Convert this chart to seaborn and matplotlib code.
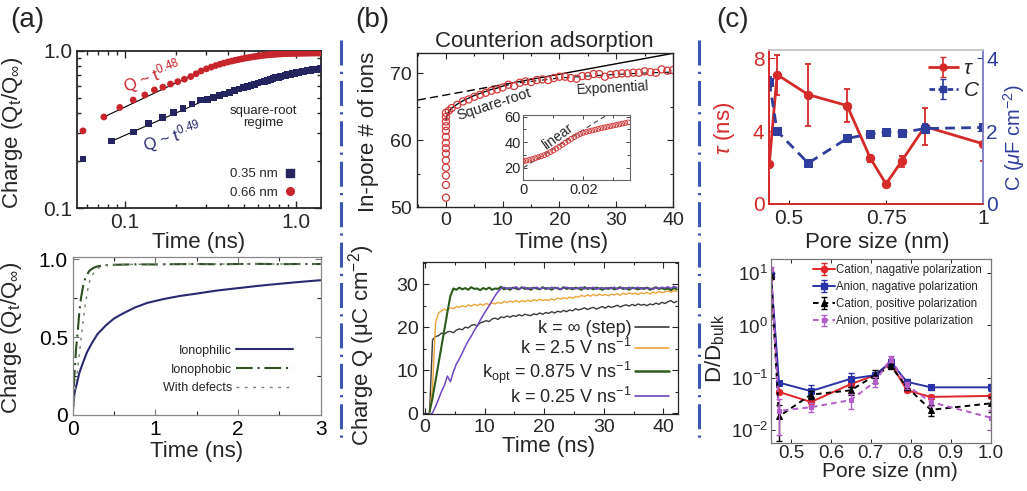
import numpy as np
import matplotlib
matplotlib.use("Agg")
import matplotlib.pyplot as plt
import seaborn as sns
from matplotlib.lines import Line2D
from matplotlib.ticker import FixedLocator, FixedFormatter, NullFormatter, LogLocator

sns.set_style("ticks")
plt.rcParams['font.family'] = ['Liberation Sans', 'DejaVu Sans']
plt.rcParams['mathtext.fontset'] = 'custom'
plt.rcParams['mathtext.rm'] = 'Liberation Sans'
plt.rcParams['mathtext.it'] = 'Liberation Sans:italic'
plt.rcParams['mathtext.bf'] = 'Liberation Sans:bold'
plt.rcParams['lines.scale_dashes'] = False
plt.rcParams['xtick.direction'] = 'in'
plt.rcParams['ytick.direction'] = 'in'

# ---------------- panel (a) top: log-log charging ----------------
t_066 = [0.057, 0.0755, 0.0935, 0.112, 0.131, 0.149, 0.167, 0.185, 0.204, 0.223, 0.243, 0.261, 0.279,
         0.30, 0.32, 0.34, 0.36, 0.38, 0.40, 0.42, 0.44, 0.46, 0.48,
         0.50, 0.52, 0.54, 0.56, 0.58, 0.60, 0.62, 0.64, 0.66, 0.68,
         0.70, 0.72, 0.74, 0.76, 0.78, 0.80, 0.82, 0.84, 0.86, 0.88,
         0.90, 0.92, 0.94, 0.96, 0.98, 1.00, 1.02, 1.04, 1.06, 1.08,
         1.10, 1.12, 1.14, 1.16, 1.18, 1.20, 1.22, 1.24, 1.26, 1.28,
         1.30, 1.32, 1.34, 1.36, 1.38]
q_066 = [0.31, 0.38, 0.437, 0.487, 0.525, 0.565, 0.588, 0.616, 0.638, 0.661, 0.687, 0.716, 0.746,
         0.770, 0.790, 0.808, 0.824, 0.838, 0.851, 0.862, 0.872, 0.881, 0.890,
         0.898, 0.905, 0.912, 0.918, 0.923, 0.928, 0.933, 0.937, 0.941, 0.944,
         0.947, 0.950, 0.952, 0.954, 0.956, 0.958, 0.959, 0.961, 0.962, 0.963,
         0.964, 0.965, 0.966, 0.966, 0.967, 0.967, 0.968, 0.968, 0.969, 0.969,
         0.970, 0.970, 0.970, 0.971, 0.971, 0.971, 0.972, 0.972, 0.972, 0.972,
         0.973, 0.973, 0.973, 0.973, 0.973]
t_035 = [0.057, 0.084, 0.112, 0.138, 0.167, 0.193, 0.219, 0.247, 0.276,
         0.303, 0.330, 0.357, 0.384, 0.411, 0.438, 0.465, 0.492, 0.519, 0.546,
         0.573, 0.600, 0.627, 0.654, 0.681, 0.708, 0.735, 0.762, 0.789, 0.816,
         0.843, 0.870, 0.897, 0.924, 0.951, 0.978, 1.005, 1.032, 1.059, 1.086,
         1.113, 1.140, 1.167, 1.194, 1.221, 1.248, 1.275, 1.302, 1.329, 1.356, 1.383]
q_035 = [0.205, 0.267, 0.305, 0.347, 0.379, 0.407, 0.432, 0.460, 0.487,
         0.490, 0.503, 0.518, 0.533, 0.547, 0.560, 0.572, 0.584, 0.595, 0.605,
         0.615, 0.625, 0.634, 0.643, 0.651, 0.659, 0.667, 0.674, 0.681, 0.688,
         0.694, 0.700, 0.706, 0.711, 0.716, 0.721, 0.726, 0.730, 0.734, 0.738,
         0.742, 0.745, 0.749, 0.752, 0.755, 0.758, 0.761, 0.763, 0.766, 0.768, 0.770]
fit066_t = [0.0755, 0.29]
fit066_q = [0.38, 0.76]
fit035_t = [0.084, 0.30]
fit035_q = [0.267, 0.49]

# ---------------- panel (a) bottom ----------------
t_philic = [0, 0.01, 0.03, 0.05, 0.08, 0.12, 0.17, 0.23, 0.3, 0.4, 0.5, 0.6, 0.75, 0.9,
            1.1, 1.3, 1.5, 1.75, 2.0, 2.25, 2.5, 2.75, 3.0]
q_philic = [0, 0.10, 0.16, 0.20, 0.27, 0.33, 0.40, 0.46, 0.52, 0.575, 0.62, 0.65, 0.69, 0.72,
            0.745, 0.765, 0.78, 0.80, 0.815, 0.83, 0.843, 0.855, 0.866]
t_phobic = [0, 0.02, 0.04, 0.06, 0.08, 0.1, 0.13, 0.16, 0.2, 0.25, 0.3, 0.4, 0.5, 0.75,
            1.0, 1.25, 1.5, 1.75, 2.0, 2.25, 2.5, 2.75, 3.0]
q_phobic = [0, 0.25, 0.42, 0.53, 0.66, 0.75, 0.84, 0.89, 0.925, 0.945, 0.955, 0.962, 0.965, 0.968,
            0.967, 0.969, 0.970, 0.968, 0.970, 0.971, 0.969, 0.970, 0.970]
t_defect = [0, 0.03, 0.06, 0.09, 0.12, 0.15, 0.18, 0.21, 0.25, 0.3, 0.35, 0.4, 0.5, 0.75,
            1.0, 1.5, 2.0, 2.5, 3.0]
q_defect = [0, 0.15, 0.30, 0.44, 0.58, 0.70, 0.80, 0.87, 0.91, 0.94, 0.955, 0.962, 0.966, 0.968,
            0.969, 0.970, 0.970, 0.970, 0.970]
labels_a = ["Ionophilic", "Ionophobic", "With defects"]

# ---------------- panel (b) top ----------------
t_ads = [0, 0, 0, 0, 0, 0, 0, 0, 0, 0, 0, 0, 0, 0,
         0.5, 1, 2, 3, 4, 5, 6, 7, 8, 9, 10, 11, 12, 13, 14, 15, 16, 17, 18, 19, 20,
         21, 22, 23, 24, 25, 26, 27, 28, 29, 30, 31, 32, 33, 34, 35, 36, 37, 38, 39, 40]
n_ads = [51.4, 53.3, 54.7, 55.9, 57.0, 58.0, 58.8, 59.6, 60.5, 61.4, 62.1, 62.8, 63.5, 64.1,
         64.4, 64.8, 65.3, 65.8, 66.1, 66.5, 66.8, 67.1, 67.4, 67.6, 67.9, 68.3, 68.1, 68.6,
         68.8, 68.7, 69.0, 69.1, 69.0, 69.3, 69.5,
         69.5, 69.3, 69.2, 69.6, 69.6, 69.9, 69.9, 69.5, 69.8, 69.9,
         70.0, 70.0, 70.1, 70.1, 70.3, 70.2, 70.1, 70.6, 70.4, 70.5]
t_sqrt = [0, 0.25, 0.5, 1, 2, 3, 4, 5, 6, 7, 8, 9, 10, 11]
n_sqrt = [63.0, 63.9, 64.3, 64.8, 65.4, 65.9, 66.3, 66.7, 67.0, 67.3, 67.6, 67.8, 68.1, 68.3]
t_lin_dash = [-5, 10.5]
n_lin_dash = [66.0, 68.4]
t_lin_solid = [10.5, 40]
n_lin_solid = [68.4, 73.0]
t_exp = [13, 20, 25, 30, 35, 40]
n_exp = [68.6, 69.3, 69.6, 69.85, 70.05, 70.2]
# inset
t_ins = [0.000, 0.001, 0.002, 0.003, 0.004, 0.005, 0.006, 0.007, 0.008, 0.009,
         0.010, 0.011, 0.012, 0.013, 0.014, 0.015, 0.016, 0.017, 0.018, 0.019,
         0.020, 0.021, 0.022, 0.023, 0.024, 0.025, 0.026, 0.027, 0.028, 0.029,
         0.030, 0.031, 0.032, 0.033, 0.034, 0.035]
n_ins = [25.0, 25.6, 26.2, 26.8, 27.5, 28.2, 29.0, 29.9, 31.0, 32.2,
         33.5, 35.0, 36.5, 38.0, 39.6, 41.1, 42.6, 44.0, 45.3, 46.4,
         47.3, 48.0, 48.6, 49.2, 49.8, 50.4, 51.0, 51.5, 52.0, 52.5,
         53.0, 53.5, 54.0, 54.5, 55.0, 55.5]
t_ins_fit = [0.0, 0.028]
n_ins_fit = [20.0, 61.5]

# ---------------- panel (b) bottom ----------------
t_q = [0.75, 1.25, 1.75, 2.25, 2.75, 3.25, 3.75, 4.25, 4.75, 5.25,
       5.75, 6.25, 6.75, 7.25, 7.75, 8.25, 8.75, 9.25, 9.75, 10.25,
       10.75, 11.25, 11.75, 12.25, 12.75, 13.25, 13.75, 14.25, 14.75, 15.25,
       15.75, 16.25, 16.75, 17.25, 17.75, 18.25, 18.75, 19.25, 19.75, 20.25,
       20.75, 21.25, 21.75, 22.25, 22.75, 23.25, 23.75, 24.25, 24.75, 25.25,
       25.75, 26.25, 26.75, 27.25, 27.75, 28.25, 28.75, 29.25, 29.75, 30.25,
       30.75, 31.25, 31.75, 32.25, 32.75, 33.25, 33.75, 34.25, 34.75, 35.25,
       35.75, 36.25, 36.75, 37.25, 37.75, 38.25, 38.75, 39.25, 39.75, 40.25,
       40.75, 41.25, 41.75, 42.25]
q_step = [0.0, 17.0, 17.8, 18.0, 18.6, 18.4, 18.9, 19.0, 18.7, 19.3,
          19.6, 19.4, 20.0, 19.8, 20.4, 20.6, 20.3, 21.0, 21.2, 21.5,
          21.3, 21.9, 22.1, 21.8, 22.4, 22.2, 22.6, 22.3, 22.7, 22.5,
          22.9, 22.6, 23.0, 22.8, 22.7, 23.1, 22.9, 23.3, 23.0, 23.4,
          23.2, 23.6, 23.3, 23.7, 23.5, 23.9, 23.6, 24.0, 23.8, 24.3,
          24.0, 24.2, 24.5, 24.1, 24.4, 24.6, 24.2, 24.5, 24.8, 24.4,
          24.9, 24.6, 24.8, 25.1, 24.7, 25.0, 25.2, 24.9, 25.3, 25.0,
          25.4, 25.1, 25.3, 25.0, 25.4, 25.2, 25.6, 25.3, 25.8, 25.5,
          25.9, 26.2, 25.7, 26.0]
q_k25 = [0.0, 6.0, 21.0, 23.3, 23.8, 24.2, 23.9, 24.5, 24.3, 24.8,
         24.6, 25.0, 24.7, 25.2, 24.9, 25.3, 25.0, 25.4, 25.1, 25.5,
         25.2, 25.6, 25.4, 25.8, 25.5, 26.0, 25.7, 26.1, 25.8, 26.2,
         25.8, 26.2, 25.9, 26.3, 26.0, 26.4, 26.1, 26.5, 26.2, 26.4,
         26.2, 26.6, 26.3, 26.8, 26.5, 26.9, 26.6, 27.0, 26.7, 27.1,
         27.0, 27.4, 27.1, 27.5, 27.2, 27.6, 27.3, 27.7, 27.4, 27.6,
         27.3, 27.7, 27.5, 27.8, 27.4, 27.9, 27.6, 28.0, 27.7, 27.9,
         27.6, 28.0, 27.8, 28.1, 27.7, 28.2, 27.9, 28.3, 28.0, 28.2,
         28.4, 28.1, 28.5, 28.3]
q_kopt = [0.3, 3.5, 7.5, 11.5, 15.5, 19.5, 23.5, 27.3, 29.0, 28.7,
          29.2, 28.8, 29.1, 28.7, 29.3, 28.9, 29.0, 28.6, 29.1, 28.8,
          29.2, 28.7, 29.0, 28.9, 29.4, 28.8, 29.1, 28.7, 29.2, 29.0,
          28.8, 29.3, 28.9, 29.1, 28.7, 29.2, 29.0, 28.8, 29.3, 28.9,
          29.1, 28.7, 29.2, 29.0, 28.8, 29.3, 28.9, 29.1, 28.8, 29.2,
          29.0, 28.7, 29.3, 28.9, 29.1, 28.8, 29.2, 29.0, 28.7, 29.1,
          28.9, 29.2, 28.8, 29.0, 29.3, 28.9, 29.1, 28.7, 29.2, 29.0,
          28.8, 29.1, 28.9, 29.2, 28.7, 29.0, 29.3, 28.9, 29.1, 28.8,
          29.0, 28.6, 29.1, 28.8]
q_k025 = [-0.3, 0.0, 1.5, 3.2, 5.0, 6.5, 8.6, 7.3, 9.6, 11.4,
          12.6, 14.0, 15.5, 16.8, 17.9, 19.2, 20.3, 21.6, 22.8, 23.9,
          25.0, 26.2, 27.3, 28.3, 29.0, 29.3, 28.9, 29.2, 29.0, 29.4,
          28.9, 29.1, 29.3, 28.8, 29.2, 29.0, 29.3, 28.9, 29.1, 29.2,
          28.9, 29.3, 29.0, 29.2, 28.8, 29.1, 29.3, 29.0, 29.2, 28.9,
          29.1, 29.3, 28.9, 29.2, 29.0, 29.3, 28.8, 29.1, 29.2, 28.9,
          29.2, 29.0, 29.3, 28.9, 29.1, 29.2, 28.9, 29.3, 29.0, 29.1,
          29.3, 28.9, 29.2, 29.0, 29.1, 28.8, 29.2, 29.0, 29.3, 29.1,
          29.4, 29.0, 29.5, 29.2]
labels_b = ["k = \u221e (step)", "k = 2.5 V ns$^{-1}$",
            "k$_{\\mathrm{opt}}$ = 0.875 V ns$^{-1}$", "k = 0.25 V ns$^{-1}$"]

# ---------------- panel (c) ----------------
pore = [0.45, 0.47, 0.55, 0.65, 0.71, 0.75, 0.79, 0.85, 1.0]
tau = [2.2, 7.1, 6.0, 5.4, 2.5, 1.1, 2.35, 4.25, 3.3]
tau_err = [0.0, 1.1, 1.7, 0.9, 0.2, 0.08, 0.3, 1.0, 0.95]
cap = [3.35, 2.0, 1.12, 1.8, 1.92, 1.97, 1.96, 2.07, 2.1]
cap_err = [0.13, 0.07, 0.05, 0.04, 0.03, 0.03, 0.03, 0.13, 0.1]
d_cat_neg = [8.6, 0.053, 0.034, 0.075, 0.111, 0.19, 0.057, 0.0425, 0.0445]
e_cat_neg = [0.6, 0.005, 0.005, 0.01, 0.012, 0.02, 0.005, 0.004, 0.004]
d_an_neg = [9.5, 0.080, 0.055, 0.095, 0.111, 0.20, 0.083, 0.065, 0.065]
e_an_neg = [0.8, 0.006, 0.016, 0.03, 0.015, 0.03, 0.01, 0.007, 0.009]
d_cat_pos = [9.0, 0.018, 0.047, 0.057, 0.11, 0.165, 0.066, 0.024, 0.032]
e_cat_pos = [0.8, 0.012, 0.008, 0.01, 0.03, 0.02, 0.008, 0.006, 0.01]
d_an_pos = [12.0, 0.023, 0.027, 0.037, 0.083, 0.23, 0.071, 0.034, 0.017]
e_an_pos = [1.0, 0.015, 0.005, 0.012, 0.018, 0.03, 0.01, 0.006, 0.007]
labels_c = ["Cation, nagative polarization", "Anion, nagative polarization",
            "Cation, positive polarization", "Anion, positive polarization"]

# ---------------- colours ----------------
RED_A = '#c8242b'
NAVY = '#24245e'
NAVY_L = '#2a2a70'
GREEN_D = '#2f4f25'
DEF_C = '#70806a'
RED_B = '#d23a3a'
BLACK_B = '#3a3a3a'
ORANGE = '#eca437'
GREEN_B = '#2d5a1d'
PURPLE = '#6e46c0'
RED_C = '#d42a2a'
BLUE_C = '#2f3d9c'
RED_D = '#e0262a'
BLUE_D = '#2b32a8'
MAG_D = '#b45cc8'

W, H = 1027, 491
fig = plt.figure(figsize=(W / 100, H / 100), dpi=100)


def px_axes(x0, y0, x1, y1):
    return fig.add_axes([x0 / W, 1 - y1 / H, (x1 - x0) / W, (y1 - y0) / H])


def ticks_all(ax, size, major=5, minor=3, width=1.0):
    ax.tick_params(which='both', direction='in', top=True, right=True, labelsize=size, width=width)
    ax.tick_params(which='major', length=major)
    ax.tick_params(which='minor', length=minor)


# ===== (a) top =====
ax = px_axes(77, 51, 321, 208)
ax.set_xscale('log')
ax.set_yscale('log')
sns.lineplot(x=fit066_t, y=fit066_q, color='k', lw=0.8, ax=ax, sort=False, estimator=None)
sns.lineplot(x=fit035_t, y=fit035_q, color='k', lw=0.8, ax=ax, sort=False, estimator=None)
sns.scatterplot(x=t_035, y=q_035, marker='s', color=NAVY, s=24, edgecolor='none', linewidth=0, ax=ax, zorder=3, legend=False)
sns.scatterplot(x=t_066, y=q_066, marker='o', color=RED_A, s=24, edgecolor='none', linewidth=0, ax=ax, zorder=3, legend=False)
ax.set_xlim(0.0526, 1.40)
ax.set_ylim(0.1, 1.0)
ax.xaxis.set_major_locator(FixedLocator([0.1, 1.0]))
ax.xaxis.set_major_formatter(FixedFormatter(['0.1', '1.0']))
ax.xaxis.set_minor_locator(LogLocator(base=10, subs=np.arange(2, 10) * 1.0))
ax.xaxis.set_minor_formatter(NullFormatter())
ax.yaxis.set_major_locator(FixedLocator([0.1, 1.0]))
ax.yaxis.set_major_formatter(FixedFormatter(['0.1', '1.0']))
ax.yaxis.set_minor_locator(LogLocator(base=10, subs=np.arange(2, 10) * 1.0))
ax.yaxis.set_minor_formatter(NullFormatter())
ticks_all(ax, 15, width=1.0)
for s in ax.spines.values():
    s.set_linewidth(1.3)
ax.set_xlabel('Time (ns)', fontsize=16)
ax.xaxis.set_label_coords(0.5, -0.155)
ax.set_ylabel('Charge (Q$_{\\mathrm{t}}$/Q$_{\\infty}$)', fontsize=16)
ax.yaxis.set_label_coords(-0.215, 0.48)
ax.text(0.31, 0.84, 'Q ~ t$^{0.48}$', color=RED_A, fontsize=12, rotation=21,
        ha='center', va='center', transform=ax.transAxes)
ax.text(0.39, 0.455, 'Q ~ t$^{0.49}$', color=NAVY_L, fontsize=12, rotation=18,
        ha='center', va='center', transform=ax.transAxes)
ax.text(0.762, 0.58, 'square-root\nregime', fontsize=9.5, ha='center', va='center',
        linespacing=1.0, transform=ax.transAxes)
hA = [Line2D([], [], ls='', marker='s', color=NAVY, ms=5.5),
      Line2D([], [], ls='', marker='o', color=RED_A, ms=5.5)]
ax.legend(hA, ['0.35 nm', '0.66 nm'], loc='lower right', bbox_to_anchor=(0.9, 0.06),
          frameon=False, markerfirst=False, fontsize=9.5, handlelength=1.0,
          handletextpad=0.4, labelspacing=0.45, borderpad=0, borderaxespad=0, numpoints=1)

# ===== (a) bottom =====
ax = px_axes(72.7, 256.7, 320.7, 415)
sns.lineplot(x=t_philic, y=q_philic, color=NAVY_L, lw=1.5, ax=ax, sort=False, estimator=None)
sns.lineplot(x=t_phobic, y=q_phobic, color=GREEN_D, lw=1.5, ax=ax, sort=False, estimator=None)
ax.lines[-1].set_dashes([12, 3.5, 1.5, 3.5])
sns.lineplot(x=t_defect, y=q_defect, color=DEF_C, lw=1.0, ax=ax, sort=False, estimator=None)
ax.lines[-1].set_dashes([2, 4])
ax.set_xlim(0, 3)
ax.set_ylim(0, 1.017)
ax.xaxis.set_major_locator(FixedLocator([0, 1, 2, 3]))
ax.xaxis.set_minor_locator(FixedLocator([0.5, 1.5, 2.5]))
ax.yaxis.set_major_locator(FixedLocator([0, 0.5, 1.0]))
ax.yaxis.set_major_formatter(FixedFormatter(['0', '0.5', '1.0']))
ax.yaxis.set_minor_locator(FixedLocator([0.25, 0.75]))
ticks_all(ax, 15, major=4, minor=3, width=0.8)
ax.tick_params(colors='#777777', labelcolor='black')
for s in ax.spines.values():
    s.set_linewidth(0.9)
    s.set_color('#888888')
ax.set_xlabel('Time (ns)', fontsize=16)
ax.xaxis.set_label_coords(0.5, -0.165)
ax.set_ylabel('Charge (Q$_{\\mathrm{t}}$/Q$_{\\infty}$)', fontsize=16)
ax.yaxis.set_label_coords(-0.195, 0.486)
hB = [Line2D([], [], color=NAVY_L, lw=1.5),
      Line2D([], [], color=GREEN_D, lw=1.5, dashes=[12, 3.5, 1.5, 3.5]),
      Line2D([], [], color=DEF_C, lw=1.0, dashes=[2, 4])]
ax.legend(hB, labels_a, loc='lower right', bbox_to_anchor=(0.89, 0.13), frameon=False,
          markerfirst=False, fontsize=9, handlelength=4.6, handletextpad=0.3,
          labelspacing=0.55, borderpad=0, borderaxespad=0)

# ===== (b) top =====
ax = px_axes(417, 53, 673, 207)
sns.lineplot(x=t_lin_dash, y=n_lin_dash, color='k', lw=1.0, ax=ax, sort=False, estimator=None)
ax.lines[-1].set_dashes([6, 3])
sns.lineplot(x=t_lin_solid, y=n_lin_solid, color='k', lw=1.0, ax=ax, sort=False, estimator=None)
sns.lineplot(x=t_sqrt, y=n_sqrt, color='k', lw=1.0, ax=ax, sort=False, estimator=None)
sns.lineplot(x=t_exp, y=n_exp, color='k', lw=0.8, ax=ax, sort=False, estimator=None)
ax.lines[-1].set_dashes([4, 4])
sc = sns.scatterplot(x=t_ads, y=n_ads, marker='o', s=26, ax=ax, legend=False, zorder=3,
                     color=RED_B)
sc.collections[-1].set_facecolor('none')
sc.collections[-1].set_edgecolor(RED_B)
sc.collections[-1].set_linewidth(0.9)
ax.set_xlim(-5.1, 40)
ax.set_ylim(50, 73.05)
ax.xaxis.set_major_locator(FixedLocator([0, 10, 20, 30, 40]))
ax.xaxis.set_minor_locator(FixedLocator([-5, 5, 15, 25, 35]))
ax.yaxis.set_major_locator(FixedLocator([50, 60, 70]))
ax.yaxis.set_minor_locator(FixedLocator([55, 65]))
ticks_all(ax, 14, major=4, minor=2.5, width=0.8)
for s in ax.spines.values():
    s.set_linewidth(1.0)
ax.set_xlabel('Time (ns)', fontsize=16)
ax.xaxis.set_label_coords(0.566, -0.16)
ax.set_ylabel('In-pore # of ions', fontsize=16)
ax.yaxis.set_label_coords(-0.148, 0.49)
ax.text(0.30, 0.669, 'Square-root', fontsize=10.5, rotation=18, ha='center', va='center',
        transform=ax.transAxes)
ax.text(0.766, 0.773, 'Exponential', fontsize=10, rotation=3, ha='center', va='center',
        transform=ax.transAxes)
fig.text(544 / W, 1 - 42 / H, 'Counterion adsorption', fontsize=16, ha='center', va='center')

# inset
axi = px_axes(523.3, 115, 630, 180)
sns.lineplot(x=t_ins_fit, y=n_ins_fit, color='#444444', lw=0.8, ax=axi, sort=False, estimator=None)
axi.lines[-1].set_dashes([3.5, 2.5])
sci = sns.scatterplot(x=t_ins, y=n_ins, marker='o', s=12, ax=axi, legend=False, zorder=3, color=RED_B)
sci.collections[-1].set_facecolor('none')
sci.collections[-1].set_edgecolor(RED_B)
sci.collections[-1].set_linewidth(0.7)
axi.set_xlim(0, 0.0356)
axi.set_ylim(10.4, 61.3)
axi.xaxis.set_major_locator(FixedLocator([0, 0.02]))
axi.xaxis.set_major_formatter(FixedFormatter(['0', '0.02']))
axi.xaxis.set_minor_locator(FixedLocator([0.01, 0.03]))
axi.yaxis.set_major_locator(FixedLocator([20, 40, 60]))
axi.yaxis.set_minor_locator(FixedLocator([30, 50]))
ticks_all(axi, 10.5, major=3, minor=2, width=0.6)
for s in axi.spines.values():
    s.set_linewidth(0.8)
    s.set_color('#666666')
axi.tick_params(axis='both', pad=2)
axi.text(0.32, 0.665, 'linear', fontsize=10, rotation=36, ha='center', va='center',
         transform=axi.transAxes)

# ===== (b) bottom =====
ax = px_axes(423.3, 262.3, 678.3, 414.3)
sns.lineplot(x=t_q, y=q_step, color=BLACK_B, lw=1.0, ax=ax, sort=False, estimator=None)
sns.lineplot(x=t_q, y=q_k25, color=ORANGE, lw=1.0, ax=ax, sort=False, estimator=None)
sns.lineplot(x=t_q, y=q_kopt, color=GREEN_B, lw=1.5, ax=ax, sort=False, estimator=None)
sns.lineplot(x=t_q, y=q_k025, color=PURPLE, lw=1.1, ax=ax, sort=False, estimator=None)
ax.set_xlim(-0.3, 42.5)
ax.set_ylim(-0.3, 35.1)
ax.xaxis.set_major_locator(FixedLocator([0, 10, 20, 30, 40]))
ax.xaxis.set_minor_locator(FixedLocator([5, 15, 25, 35]))
ax.yaxis.set_major_locator(FixedLocator([0, 10, 20, 30]))
ax.yaxis.set_minor_locator(FixedLocator([5, 15, 25, 35]))
ticks_all(ax, 14, major=4, minor=2.5, width=0.8)
for s in ax.spines.values():
    s.set_linewidth(0.9)
ax.set_xlabel('Time (ns)', fontsize=16)
ax.xaxis.set_label_coords(0.493, -0.145)
ax.set_ylabel('Charge Q (\u03bcC cm$^{-2}$)', fontsize=16)
ax.yaxis.set_label_coords(-0.18, 0.456)
hC = [Line2D([], [], color=BLACK_B, lw=1.2), Line2D([], [], color=ORANGE, lw=1.2),
      Line2D([], [], color=GREEN_B, lw=1.8), Line2D([], [], color=PURPLE, lw=1.2)]
ax.legend(hC, labels_b, loc='lower right', bbox_to_anchor=(0.965, 0.05), frameon=False,
          markerfirst=False, fontsize=13, handlelength=1.9, handletextpad=0.2,
          labelspacing=0.05, borderpad=0, borderaxespad=0)

# ===== (c) top =====
ax = px_axes(769.3, 50, 983.3, 204)
ax2 = ax.twinx()
sns.lineplot(x=pore, y=tau, color=RED_C, lw=2.0, marker='o', ms=6, mec=RED_C, ax=ax,
             sort=False, estimator=None)
ax.errorbar(pore, tau, yerr=tau_err, fmt='none', ecolor=RED_C, elinewidth=1.3, capsize=2.5,
            capthick=1.3)
sns.lineplot(x=pore, y=cap, color=BLUE_C, lw=2.0, marker='s', ms=5.5, mec=BLUE_C, ax=ax2,
             sort=False, estimator=None)
ax2.lines[-1].set_dashes([7, 4.5])
ax2.errorbar(pore, cap, yerr=cap_err, fmt='none', ecolor=BLUE_C, elinewidth=1.3, capsize=2.5,
             capthick=1.3)
ax.set_xlim(0.45, 1.0)
ax.set_ylim(0, 8.45)
ax2.set_ylim(0, 4.225)
ax.xaxis.set_major_locator(FixedLocator([0.5, 0.75, 1.0]))
ax.xaxis.set_major_formatter(FixedFormatter(['0.5', '0.75', '1']))
ax.yaxis.set_major_locator(FixedLocator([0, 4, 8]))
ax2.yaxis.set_major_locator(FixedLocator([0, 2, 4]))
ax.tick_params(axis='x', direction='in', labelsize=15, length=3, top=False)
ax.tick_params(axis='y', direction='in', labelsize=15, length=4, colors=RED_C)
ax2.tick_params(axis='y', direction='in', labelsize=15, length=4, colors=BLUE_C, pad=2)
for a in (ax, ax2):
    a.spines['left'].set_color(RED_C)
    a.spines['bottom'].set_color(RED_C)
    a.spines['right'].set_color('#8484c8')
    a.spines['top'].set_color('#c8c8c8')
    for s in a.spines.values():
        s.set_linewidth(1.2)
ax.set_xlabel('Pore size (nm)', fontsize=16)
ax.xaxis.set_label_coords(0.503, -0.185)
ax.set_ylabel('$\\tau$ (ns)', fontsize=16, color=RED_C)
ax.yaxis.set_label_coords(-0.15, 0.49)
ax2.set_ylabel('C ($\\mu$F cm$^{-2}$)', fontsize=14.5, color=BLUE_C, rotation=90)
ax2.yaxis.set_label_coords(1.082, 0.43)
p1 = ax2.errorbar([np.nan], [np.nan], yerr=[1.0], fmt='-o', color=RED_C, ms=5, lw=2,
                  elinewidth=1.2, capsize=2.5)
p2 = ax2.errorbar([np.nan], [np.nan], yerr=[1.0], fmt='--s', color=BLUE_C, ms=4.5, lw=2,
                  elinewidth=1.2, capsize=2.5, dashes=[4, 2.5])
ax2.legend([p1, p2], ['$\\tau$', '$C$'], loc='upper right', bbox_to_anchor=(0.985, 0.94),
           frameon=False, fontsize=15, handlelength=1.4, handletextpad=0.25,
           labelspacing=0.15, borderpad=0, borderaxespad=0)

# ===== (c) bottom =====
ax = px_axes(771, 259.3, 990.7, 442.7)
ax.set_yscale('log')
series_c = [(d_cat_neg, e_cat_neg, RED_D, 'o', None, 4.5),
            (d_an_neg, e_an_neg, BLUE_D, 's', None, 4.0),
            (d_cat_pos, e_cat_pos, 'k', '^', [4, 3], 4.5),
            (d_an_pos, e_an_pos, MAG_D, 's', [4, 3], 3.0)]
proxies = []
for vals, errs, col, mk, dsh, ms in series_c:
    sns.lineplot(x=pore, y=vals, color=col, lw=1.4, marker=mk, ms=ms, mec=col, ax=ax,
                 sort=False, estimator=None)
    if dsh is not None:
        ax.lines[-1].set_dashes(dsh)
    ax.errorbar(pore, vals, yerr=errs, fmt='none', ecolor=col, elinewidth=1.0, capsize=2,
                capthick=1.0)
    kw = dict(dashes=dsh) if dsh is not None else {}
    proxies.append(ax.errorbar([np.nan], [np.nan], yerr=[1.0], fmt='-' + mk, color=col,
                               ms=ms, lw=1.4, elinewidth=1.0, capsize=2, **kw))
ax.set_xlim(0.45, 1.0)
ax.set_ylim(10 ** -2.25, 10 ** 1.27)
ax.xaxis.set_major_locator(FixedLocator([0.5, 0.6, 0.7, 0.8, 0.9, 1.0]))
ax.xaxis.set_major_formatter(FixedFormatter(['0.5', '0.6', '0.7', '0.8', '0.9', '1.0']))
ax.yaxis.set_major_locator(FixedLocator([0.01, 0.1, 1, 10]))
ax.yaxis.set_minor_locator(FixedLocator([]))
ax.tick_params(which='both', direction='in', top=True, right=True, labelsize=13.5, length=3,
               width=0.7)
ax.tick_params(axis='x', pad=2)
ax.tick_params(axis='y', pad=2)
for s in ax.spines.values():
    s.set_linewidth(0.9)
    s.set_color('#777777')
ax.set_xlabel('Pore size (nm)', fontsize=15)
ax.xaxis.set_label_coords(0.54, -0.105)
ax.set_ylabel('D/D$_{\\mathrm{bulk}}$', fontsize=16)
ax.yaxis.set_label_coords(-0.2, 0.516)
ax.legend(proxies, labels_c, loc='upper left', bbox_to_anchor=(0.19, 0.975), frameon=False,
          fontsize=8.3, handlelength=1.9, handletextpad=0.15, labelspacing=0.45, borderpad=0,
          borderaxespad=0)

# ===== panel labels and separators =====
fig.text(10 / W, 1 - 20 / H, '(a)', fontsize=20, ha='left', va='center')
fig.text(355 / W, 1 - 20 / H, '(b)', fontsize=20, ha='left', va='center')
fig.text(716 / W, 1 - 20 / H, '(c)', fontsize=20, ha='left', va='center')
for xp in (341, 699):
    ln = Line2D([xp / W, xp / W], [1 - 40 / H, 1 - 440 / H], transform=fig.transFigure,
                color='#3b56b3', lw=2.2, solid_capstyle='butt', dash_capstyle='butt')
    ln.set_dashes([18, 4.5, 1.6, 5.0])
    fig.add_artist(ln)

fig.savefig('out.png', dpi=100)
